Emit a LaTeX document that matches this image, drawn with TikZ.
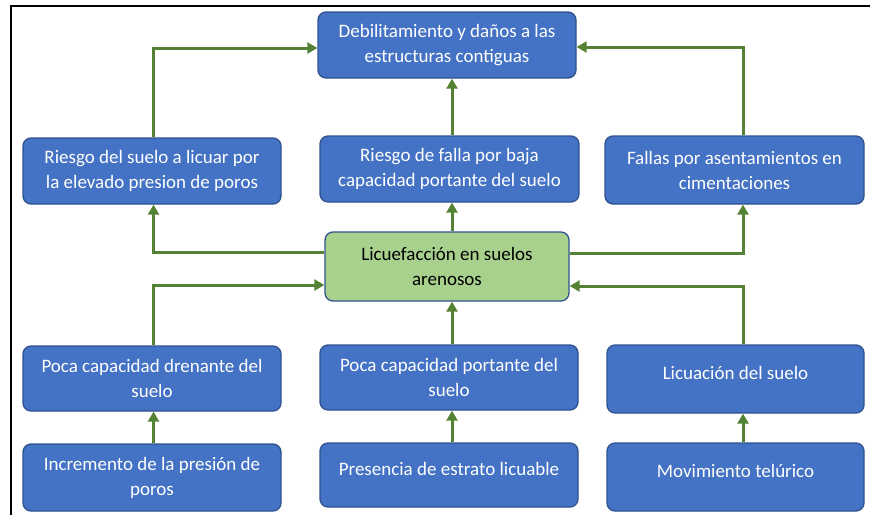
\documentclass[tikz,border=0pt]{standalone}
\usepackage{fontspec}
\setmainfont{Carlito}
\usetikzlibrary{arrows.meta}
\definecolor{cajaazul}{HTML}{4472C4}
\definecolor{bordeazul}{HTML}{2F528F}
\definecolor{cajaverde}{HTML}{A9D18E}
\definecolor{flechaverde}{HTML}{548235}
\begin{document}
\begin{tikzpicture}[x=1pt, y=-1pt,
    caja/.style={draw=bordeazul, line width=1.3pt, fill=cajaazul, rounded corners=8pt,
        text=white, align=center, inner sep=0pt, minimum width=258pt, minimum height=66pt,
        font=\fontsize{19}{25}\selectfont},
    centro/.style={caja, fill=cajaverde, text=black, minimum width=244pt, minimum height=69pt},
    flecha/.style={draw=flechaverde, line width=3pt, -{Triangle[length=10pt,width=11pt]}}]
    \useasboundingbox (0,0) rectangle (870,515);
\draw[line width=2pt] (11,515) -- (11,6) -- (870,6);
% efectos
\node[caja] (deb) at (447,45) {Debilitamiento y daños a las\\estructuras contiguas};
\node[caja] (rlic) at (152,171) {Riesgo del suelo a licuar por\\la elevado presion de poros};
\node[caja, minimum width=259pt] (rfal) at (449.5,169) {Riesgo de falla por baja\\capacidad portante del suelo};
\node[caja, minimum width=259pt, minimum height=68pt] (fall) at (734.5,170) {Fallas por asentamientos en\\cimentaciones};
% problema central
\node[centro] (lic) at (447,266.5) {Licuefacción en suelos\\arenosos};
% causas
\node[caja, minimum height=65pt] (dren) at (152,378.5) {Poca capacidad drenante del\\suelo};
\node[caja, minimum height=65pt] (port) at (449,377.5) {Poca capacidad portante del\\suelo};
\node[caja, minimum width=257pt, minimum height=68pt] (licu) at (735.5,379) {Licuación del suelo\\[-21pt]\strut};
\node[caja, minimum height=67pt] (incr) at (152,477.5) {Incremento de la presión de\\poros};
\node[caja, minimum height=64pt] (pres) at (449,475) {Presencia de estrato licuable\\[-21pt]\strut};
\node[caja, minimum width=257pt, minimum height=68pt] (movi) at (735.5,477) {Movimiento telúrico\\[-21pt]\strut};
% flechas
\draw[flecha] ([xshift=1.5pt]rlic.north) |- ([yshift=-3pt]deb.west);
\draw[flecha] ([xshift=2.5pt]rfal.north) -- ([xshift=2.5pt]rfal.north |- deb.south);
\draw[flecha] ([xshift=8.5pt]fall.north) |- ([yshift=-2pt]deb.east);
\draw[flecha] ([yshift=14pt]lic.west) -| ([xshift=1.5pt]rlic.south);
\draw[flecha] ([xshift=5pt]lic.north) -- ([xshift=5pt]lic.north |- rfal.south);
\draw[flecha] ([yshift=13.5pt]lic.east) -| ([xshift=8.5pt]fall.south);
\draw[flecha] ([xshift=1.5pt]dren.north) |- ([yshift=-18.5pt]lic.west);
\draw[flecha] ([xshift=3pt]port.north) -- ([xshift=3pt]port.north |- lic.south);
\draw[flecha] ([xshift=7.5pt]licu.north) |- ([yshift=-19.5pt]lic.east);
\draw[flecha] ([xshift=1.5pt]incr.north) -- ([xshift=1.5pt]incr.north |- dren.south);
\draw[flecha] ([xshift=3pt]pres.north) -- ([xshift=3pt]pres.north |- port.south);
\draw[flecha] ([xshift=7.5pt]movi.north) -- ([xshift=7.5pt]movi.north |- licu.south);
    \end{tikzpicture}
\end{document}
